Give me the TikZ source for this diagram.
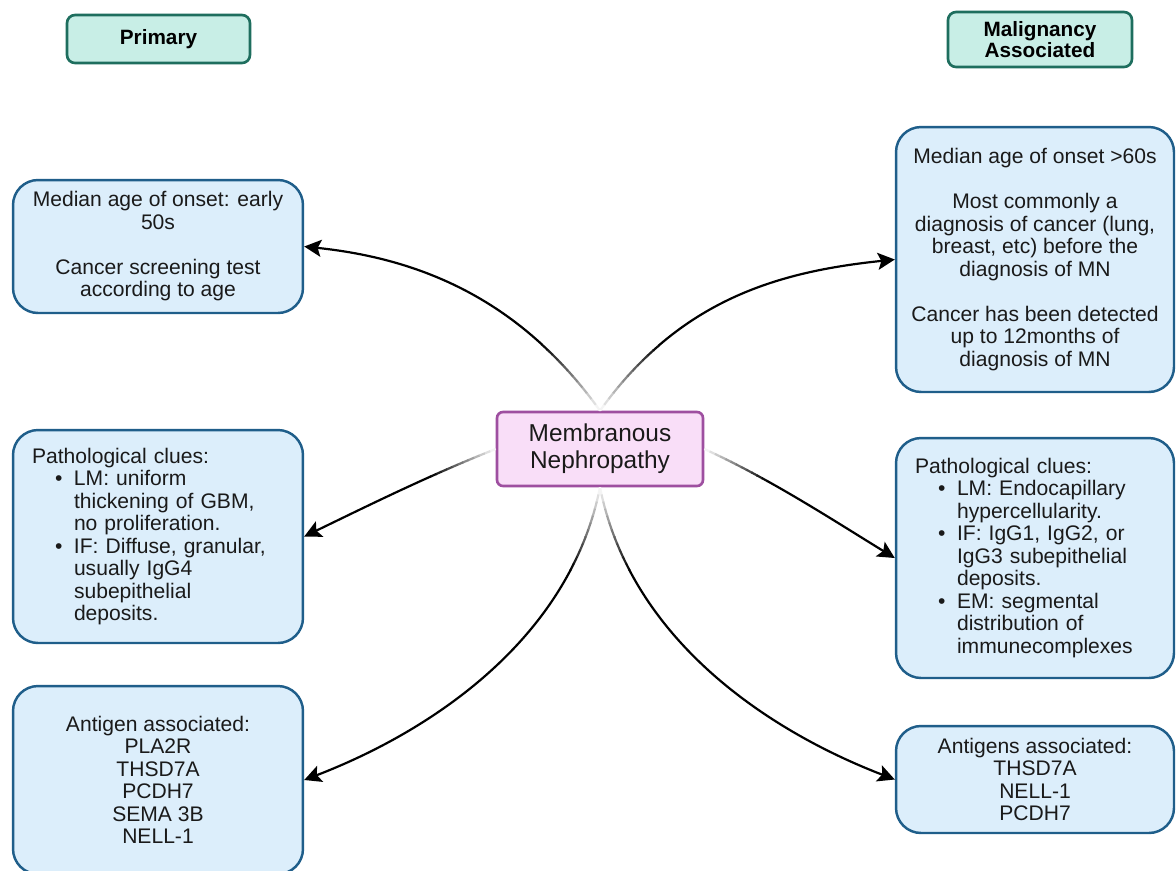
\documentclass[tikz,border=0pt]{standalone}
\usepackage{fontspec}
\setmainfont{Liberation Sans}
\usetikzlibrary{arrows.meta}
\definecolor{boxfill}{HTML}{DCEEFB}
\definecolor{boxdraw}{HTML}{1F5E8A}
\definecolor{hdfill}{HTML}{C8EEE6}
\definecolor{hddraw}{HTML}{1E6E5E}
\definecolor{cfill}{HTML}{F9DEF8}
\definecolor{cdraw}{HTML}{9E4FA0}
\definecolor{txt}{HTML}{1A1A1A}
\newcommand\bitem[1]{\hspace*{0.46cm}\makebox[0.38cm][l]{\textbullet}#1}
\newcommand\bcont[1]{\hspace*{0.84cm}#1}
\newcommand\fadedarrow[2]{%
  \foreach \i in {0,...,11}{%
    \pgfmathsetmacro\st{\i*#1/12}%
    \pgfmathsetmacro\sl{#1/12+0.4}%
    \pgfmathsetmacro\g{(\i+0.5)/12*100}%
    \draw[conn, draw=black!\g, dash pattern=on 0pt off \st pt on \sl pt off 10000pt] #2;
  }%
  \draw[conn, -{Stealth[length=0.34cm, width=0.34cm, inset=0.07cm]}, dash pattern=on 0pt off #1pt on 10000pt] #2;
}
\tikzset{
  infobox/.style={draw=boxdraw, fill=boxfill, line width=1.4pt, rounded corners=0.5cm,
    text=txt, font=\fontsize{12}{12.8}\selectfont, inner sep=0pt},
  hdbox/.style={draw=hddraw, fill=hdfill, line width=1.5pt, rounded corners=0.16cm,
    text=black, font=\bfseries\fontsize{11.8}{11.8}\selectfont, align=center, inner sep=0pt},
  centerbox/.style={draw=cdraw, fill=cfill, line width=1.5pt, rounded corners=0.12cm,
    text=txt, font=\fontsize{13.9}{15.4}\selectfont, align=center, inner sep=0pt},
  conn/.style={line width=1.25pt, draw=black}
}
\begin{document}
\begin{tikzpicture}[x=0.02cm, y=-0.02cm]
\path[use as bounding box, clip] (0,0) rectangle (1176,870);
\fill[white] (0,0) rectangle (1176,870);

% headers
\node[hdbox, minimum width=3.66cm, minimum height=0.96cm] (hp) at (158.5,39) {Primary};
\node[hdbox, minimum width=3.68cm, minimum height=1.10cm] (hm) at (1040,39.5) {Malignancy\\Associated};

% center
\node[centerbox, minimum width=4.12cm, minimum height=1.48cm] (c) at (600,449) {Membranous\\Nephropathy};

% left boxes
\node[infobox, align=center, minimum width=5.8cm, minimum height=2.66cm] (L1) at (158,246.5)
  {Median age of onset: early\\50s\\[12.8pt]Cancer screening test\\according to age};
\node[infobox, align=left, text width=5.04cm, inner xsep=0.38cm, minimum width=5.8cm, minimum height=4.26cm] (L2) at (158,536.5)
  {Pathological clues:\\
   \bitem{LM: uniform}\\
   \bcont{thickening of GBM,}\\
   \bcont{no proliferation.}\\
   \bitem{IF: Diffuse, granular,}\\
   \bcont{usually IgG4}\\
   \bcont{subepithelial}\\
   \bcont{deposits.}};
\node[infobox, align=center, minimum width=5.8cm, minimum height=3.76cm] (L3) at (158,780)
  {Antigen associated:\\PLA2R\\THSD7A\\PCDH7\\SEMA 3B\\NELL-1};

% right boxes
\node[infobox, align=center, minimum width=5.56cm, minimum height=5.3cm] (R1) at (1035,259.5)
  {Median age of onset >60s\\[12.8pt]Most commonly a\\diagnosis of cancer (lung,\\breast, etc) before the\\diagnosis of MN\\[12.8pt]Cancer has been detected\\up to 12months of\\diagnosis of MN};
\node[infobox, align=left, text width=4.8cm, inner xsep=0.38cm, minimum width=5.56cm, minimum height=4.8cm] (R2) at (1035,558)
  {Pathological clues:\\
   \bitem{LM: Endocapillary}\\
   \bcont{hypercellularity.}\\
   \bitem{IF: IgG1, IgG2, or}\\
   \bcont{IgG3 subepithelial}\\
   \bcont{deposits.}\\
   \bitem{EM: segmental}\\
   \bcont{distribution of}\\
   \bcont{immunecomplexes}};
\node[infobox, align=center, minimum width=5.56cm, minimum height=2.14cm] (R3) at (1035,779.5)
  {Antigens associated:\\THSD7A\\NELL-1\\PCDH7};

% connectors
\fadedarrow{50}{(c.north) .. controls +(-80,-112) and +(115,12) .. (L1.east)}
\fadedarrow{50}{(c.north) .. controls +(80,-112) and +(-115,12) .. (R1.west)}
\fadedarrow{40}{(c.west) .. controls +(-66,26) and +(62,-30) .. (L2.east)}
\fadedarrow{40}{(c.east) .. controls +(66,30) and +(-62,-38) .. (R2.west)}
\fadedarrow{50}{(c.south) .. controls +(-30,150) and +(130,-50) .. (L3.east)}
\fadedarrow{50}{(c.south) .. controls +(30,150) and +(-130,-50) .. (R3.west)}
\end{tikzpicture}
\end{document}
